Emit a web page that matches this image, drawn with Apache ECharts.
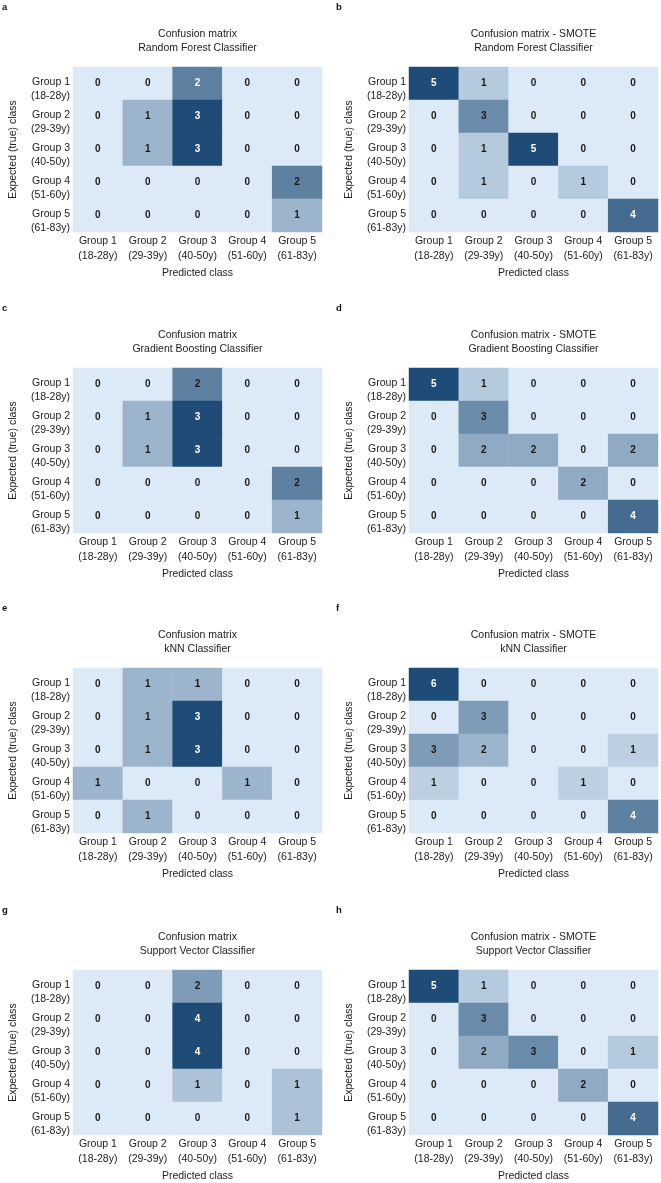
<!DOCTYPE html>
<html>
<head>
<meta charset="utf-8">
<script src="https://cdn.jsdelivr.net/npm/echarts@6/dist/echarts.min.js"></script>
<style>
html,body{margin:0;padding:0;background:#ffffff;}
#chart{width:661px;height:1183px;}
</style>
</head>
<body>
<div id="chart"></div>
<script>
// ---------------- data ----------------
const groupLabels = ['Group 1\n(18-28y)', 'Group 2\n(29-39y)', 'Group 3\n(40-50y)', 'Group 4\n(51-60y)', 'Group 5\n(61-83y)'];
const panelLetters = ['a', 'b', 'c', 'd', 'e', 'f', 'g', 'h'];
const panelTitles = [
  'Confusion matrix\nRandom Forest Classifier',
  'Confusion matrix - SMOTE\nRandom Forest Classifier',
  'Confusion matrix\nGradient Boosting Classifier',
  'Confusion matrix - SMOTE\nGradient Boosting Classifier',
  'Confusion matrix\nkNN Classifier',
  'Confusion matrix - SMOTE\nkNN Classifier',
  'Confusion matrix\nSupport Vector Classifier',
  'Confusion matrix - SMOTE\nSupport Vector Classifier'
];
const xAxisName = 'Predicted class';
const yAxisName = 'Expected (true) class';

// rows = expected (true) class, columns = predicted class
const matrixRF = [
  [0, 0, 2, 0, 0],
  [0, 1, 3, 0, 0],
  [0, 1, 3, 0, 0],
  [0, 0, 0, 0, 2],
  [0, 0, 0, 0, 1]
];
const matrixRFSmote = [
  [5, 1, 0, 0, 0],
  [0, 3, 0, 0, 0],
  [0, 1, 5, 0, 0],
  [0, 1, 0, 1, 0],
  [0, 0, 0, 0, 4]
];
const matrixGB = [
  [0, 0, 2, 0, 0],
  [0, 1, 3, 0, 0],
  [0, 1, 3, 0, 0],
  [0, 0, 0, 0, 2],
  [0, 0, 0, 0, 1]
];
const matrixGBSmote = [
  [5, 1, 0, 0, 0],
  [0, 3, 0, 0, 0],
  [0, 2, 2, 0, 2],
  [0, 0, 0, 2, 0],
  [0, 0, 0, 0, 4]
];
const matrixKNN = [
  [0, 1, 1, 0, 0],
  [0, 1, 3, 0, 0],
  [0, 1, 3, 0, 0],
  [1, 0, 0, 1, 0],
  [0, 1, 0, 0, 0]
];
const matrixKNNSmote = [
  [6, 0, 0, 0, 0],
  [0, 3, 0, 0, 0],
  [3, 2, 0, 0, 1],
  [1, 0, 0, 1, 0],
  [0, 0, 0, 0, 4]
];
const matrixSVC = [
  [0, 0, 2, 0, 0],
  [0, 0, 4, 0, 0],
  [0, 0, 4, 0, 0],
  [0, 0, 1, 0, 1],
  [0, 0, 0, 0, 1]
];
const matrixSVCSmote = [
  [5, 1, 0, 0, 0],
  [0, 3, 0, 0, 0],
  [0, 2, 3, 0, 1],
  [0, 0, 0, 2, 0],
  [0, 0, 0, 0, 4]
];
const matrices = [matrixRF, matrixRFSmote, matrixGB, matrixGBSmote, matrixKNN, matrixKNNSmote, matrixSVC, matrixSVCSmote];
// cells whose annotation is drawn in white although below the contrast threshold: [panel, row, col]
const whiteLabelOverrides = [[0, 0, 2], [5, 4, 4]];

// ---------------- layout / style ----------------
const FONT = '"Liberation Sans", Arial, Helvetica, sans-serif';
const TEXT = '#222222';
const colLeft = [73, 409];
const gridW = 249;
const rowTop = [67, 368, 668, 970];
const gridH = 165;
const colorRange = ['#dce9f6', '#1f4c77'];

const grids = [], xAxes = [], yAxes = [], series = [], visualMaps = [], graphics = [];

matrices.forEach((m, p) => {
  const col = p % 2, row = Math.floor(p / 2);
  const left = colLeft[col], top = rowTop[row];
  grids.push({left: left, top: top, width: gridW, height: gridH, containLabel: false});
  xAxes.push({
    type: 'category', gridIndex: p, data: groupLabels, position: 'bottom',
    axisLine: {show: false}, axisTick: {show: false}, splitLine: {show: false},
    axisLabel: {fontFamily: FONT, fontSize: 10.5, color: TEXT, lineHeight: 15, margin: 2, interval: 0},
    name: xAxisName, nameLocation: 'middle', nameGap: 36,
    nameTextStyle: {fontFamily: FONT, fontSize: 10.5, color: TEXT}
  });
  yAxes.push({
    type: 'category', gridIndex: p, data: groupLabels, inverse: true,
    axisLine: {show: false}, axisTick: {show: false}, splitLine: {show: false},
    axisLabel: {
      fontFamily: FONT, fontSize: 10.5, color: TEXT, lineHeight: 14, margin: 3, interval: 0,
      formatter: v => '{s| }\n' + v.split('\n').map(t => '{t|' + t + '}').join('\n'),
      rich: {
        s: {fontSize: 2, lineHeight: 11},
        t: {fontFamily: FONT, fontSize: 10.5, color: TEXT, lineHeight: 14, align: 'right'}
      }
    },
    name: yAxisName, nameLocation: 'middle', nameGap: 54, nameRotate: 90,
    nameTextStyle: {fontFamily: FONT, fontSize: 10.5, color: TEXT}
  });
  let maxV = 0;
  m.forEach(r => r.forEach(v => { if (v > maxV) maxV = v; }));
  const data = [];
  m.forEach((r, ri) => r.forEach((v, ci) => {
    let white = v / maxV > 0.7;
    whiteLabelOverrides.forEach(o => { if (o[0] === p && o[1] === ri && o[2] === ci) white = true; });
    data.push({value: [ci, ri, v], label: {color: white ? '#ffffff' : '#1a1a1a'}});
  }));
  visualMaps.push({
    show: false, type: 'continuous', seriesIndex: p, dimension: 2,
    min: 0, max: maxV, inRange: {color: colorRange}
  });
  series.push({
    type: 'heatmap', xAxisIndex: p, yAxisIndex: p, data: data,
    label: {show: true, fontFamily: FONT, fontSize: 10, fontWeight: 'bold', formatter: d => String(d.value[2])},
    itemStyle: {borderWidth: 0},
    emphasis: {disabled: true}
  });
  graphics.push({
    type: 'text', x: left + gridW / 2, y: top - 26,
    style: {text: panelTitles[p], fontFamily: FONT, fontSize: 10.5, lineHeight: 14, fill: TEXT, align: 'center', verticalAlign: 'middle'}
  });
  graphics.push({
    type: 'text', x: col === 0 ? 2 : 336, y: top - 60,
    style: {text: panelLetters[p], fontFamily: FONT, fontSize: 9.5, fontWeight: 'bold', fill: '#111111', align: 'left', verticalAlign: 'middle'}
  });
});

const chart = echarts.init(document.getElementById('chart'), null, {renderer: 'canvas'});
chart.setOption({
  backgroundColor: '#ffffff',
  animation: false,
  grid: grids,
  xAxis: xAxes,
  yAxis: yAxes,
  visualMap: visualMaps,
  series: series,
  graphic: graphics
});
</script>
</body>
</html>
